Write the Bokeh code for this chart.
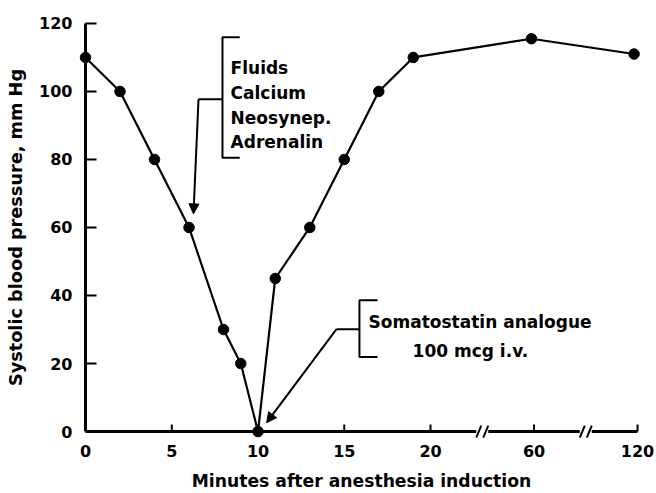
import numpy as np
from bokeh.plotting import figure
from bokeh.models import Range1d, FixedTicker, Arrow, NormalHead
from bokeh.core.properties import value
from bokeh.embed import file_html
from bokeh.resources import INLINE

# ---------------- data ----------------
minutes = [0, 2, 4, 6, 8, 9, 10, 11, 13, 15, 17, 19, 59, 118]
pressure = [110, 100, 80, 60, 30, 20, 0, 45, 60, 80, 100, 110, 115.5, 111]

x_ticks = [0, 5, 10, 15, 20, 60, 120]
x_tick_labels = ["0", "5", "10", "15", "20", "60", "120"]
y_ticks = [0, 20, 40, 60, 80, 100, 120]
y_tick_labels = ["0", "20", "40", "60", "80", "100", "120"]
axis_breaks = [40, 90]          # minutes where the axis is broken
axis_end = 120

fluids_lines = ["Fluids", "Calcium", "Neosynep.", "Adrenalin"]
somato_lines = ["Somatostatin analogue", "100 mcg i.v."]

# broken time scale: minutes -> display position
scale_min = [0, 20, 60, 120]
scale_pos = [0, 20, 26, 32]


def pos(t):
    return np.interp(np.asarray(t, dtype=float), scale_min, scale_pos)


# pixel -> data conversions (frame geometry)
PXU = 1 / 17.25
PXV = 1 / 3.417

FONT = value("DejaVu Sans")

p = figure(width=656, height=493, output_backend="svg", toolbar_location=None,
           x_range=Range1d(-0.522, 32.52), y_range=Range1d(-2.634, 122.62),
           min_border_left=76, min_border_right=10, min_border_top=14,
           min_border_bottom=51)
p.outline_line_color = None
p.grid.visible = False
p.background_fill_color = "white"
p.border_fill_color = "white"

# axes (labels only; lines drawn below to allow breaks)
xax = p.xaxis[0]
xax.ticker = FixedTicker(ticks=[float(v) for v in pos(x_ticks)])
xax.major_label_overrides = {float(v): l for v, l in zip(pos(x_ticks), x_tick_labels)}
xax.axis_label = "Minutes after anesthesia induction"
yax = p.yaxis[0]
yax.ticker = FixedTicker(ticks=y_ticks)
yax.major_label_overrides = {v: l for v, l in zip(y_ticks, y_tick_labels)}
yax.axis_label = "Systolic blood pressure, mm Hg"
for ax in (xax, yax):
    ax.axis_line_color = None
    ax.major_tick_line_color = None
    ax.minor_tick_line_color = None
    ax.major_tick_in = 0
    ax.major_tick_out = 0
    ax.major_label_text_font = "DejaVu Sans"
    ax.major_label_text_font_style = "bold"
    ax.major_label_text_font_size = "16px"
    ax.major_label_text_color = "black"
    ax.axis_label_text_font = "DejaVu Sans"
    ax.axis_label_text_font_style = "bold"
    ax.axis_label_text_color = "black"
xax.axis_label_text_font_size = "17.2px"
yax.axis_label_text_font_size = "17.7px"
xax.major_label_standoff = 4
xax.axis_label_standoff = 11
yax.major_label_standoff = 4
yax.axis_label_standoff = 10

# y axis line and inward ticks
p.line([0, 0], [0, y_ticks[-1]], line_width=3, color="black")
yt = y_ticks[1:]
p.segment(x0=[0] * len(yt), y0=yt, x1=[11 * PXU] * len(yt), y1=yt,
          line_width=2, color="black")

# x axis with breaks
bpos = list(pos(axis_breaks))
gap = 6 * PXU
xs0 = [0] + [b + gap for b in bpos]
xs1 = [b - gap for b in bpos] + [float(pos(axis_end))]
p.segment(x0=xs0, y0=[0] * len(xs0), x1=xs1, y1=[0] * len(xs1),
          line_width=3, color="black")
sx0, sy0, sx1, sy1 = [], [], [], []
for b in bpos:
    for off in (-3.5, 3.5):
        sx0.append(b + (off - 2.5) * PXU)
        sy0.append(-6 * PXV)
        sx1.append(b + (off + 2.5) * PXU)
        sy1.append(6 * PXV)
p.segment(x0=sx0, y0=sy0, x1=sx1, y1=sy1, line_width=2, color="black")
xt = list(pos(x_ticks[1:]))
p.segment(x0=xt, y0=[0] * len(xt), x1=xt, y1=[7 * PXV] * len(xt),
          line_width=2, color="black")

# data
u = pos(minutes)
p.line(u, pressure, line_width=2.2, color="black")
p.scatter(u, pressure, size=10.5, color="black")

# ---- annotation: fluids bracket ----
bx, btop, bbot, bmid = 7.94, 115.9, 80.5, 97.7
p.line([bx + 1.0, bx, bx, bx + 1.0], [btop, btop, bbot, bbot], line_width=2, color="black")
p.line([bx, 6.55], [bmid, bmid], line_width=2, color="black")
p.add_layout(Arrow(end=NormalHead(size=10, fill_color="black", line_color="black"),
                   x_start=6.55, y_start=bmid, x_end=6.26, y_end=64,
                   line_width=2, line_color="black"))
p.text(x=[8.41] * 4, y=[106.8, 99.5, 92.2, 85.1], text=fluids_lines,
       text_font=FONT, text_font_style="bold", text_font_size="17px",
       text_color="black", text_baseline="alphabetic", text_align="left")

# ---- annotation: somatostatin bracket ----
sx, stop, sbot, smid = 15.88, 38.6, 21.9, 30.1
p.line([sx + 1.05, sx, sx, sx + 1.05], [stop, stop, sbot, sbot], line_width=2, color="black")
p.line([sx, 14.55], [smid, smid], line_width=2, color="black")
p.add_layout(Arrow(end=NormalHead(size=10, fill_color="black", line_color="black"),
                   x_start=14.55, y_start=smid, x_end=10.5, y_end=2.6,
                   line_width=2, line_color="black"))
p.text(x=[16.41, 18.96], y=[32.2, 23.7], text=somato_lines,
       text_font=FONT, text_font_style="bold", text_font_size="17px",
       text_color="black", text_baseline="alphabetic", text_align="left")

open("out.html", "w").write(file_html(p, INLINE))
